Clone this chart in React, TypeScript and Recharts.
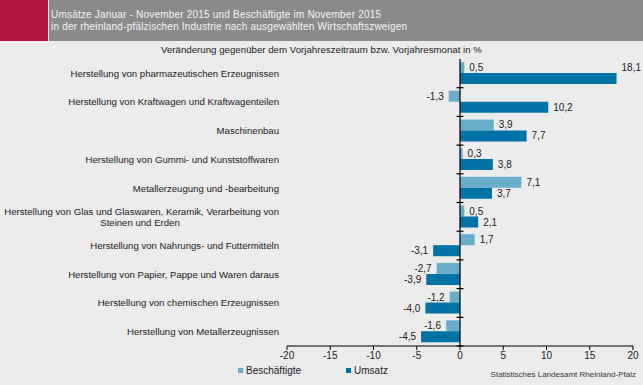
import React from "react";
import {
  BarChart,
  Bar,
  XAxis,
  YAxis,
  ReferenceLine,
  LabelList,
} from "recharts";

// Wirtschaftszweige (top to bottom); "\n" splits a two-line label
const categories = [
  "Herstellung von pharmazeutischen Erzeugnissen",
  "Herstellung von Kraftwagen und Kraftwagenteilen",
  "Maschinenbau",
  "Herstellung von Gummi- und Kunststoffwaren",
  "Metallerzeugung und -bearbeitung",
  "Herstellung von Glas und Glaswaren, Keramik, Verarbeitung von\nSteinen und Erden",
  "Herstellung von Nahrungs- und Futtermitteln",
  "Herstellung von Papier, Pappe und Waren daraus",
  "Herstellung von chemischen Erzeugnissen",
  "Herstellung von Metallerzeugnissen",
];

const beschaeftigte = [0.5, -1.3, 3.9, 0.3, 7.1, 0.5, 1.7, -2.7, -1.2, -1.6];
const umsatz = [18.1, 10.2, 7.7, 3.8, 3.7, 2.1, -3.1, -3.9, -4.0, -4.5];

const xTicks = [-20, -15, -10, -5, 0, 5, 10, 15, 20];

const COLOR_B = "#69adca";
const COLOR_U = "#0072a3";
const FONT = '"Liberation Sans", Arial, sans-serif';

const W = 643;
const H = 385;
const MARGIN = { top: 59, right: 10, bottom: 0, left: 0 };
const PLOT_RIGHT = W - MARGIN.right;

const data = categories.map((name, i) => ({
  name,
  beschaeftigte: beschaeftigte[i],
  umsatz: umsatz[i],
}));

const fmt = (v: number) => v.toFixed(1).replace(".", ",");

const CategoryTick = (props: any) => {
  const { x, y, payload } = props;
  const lines = String(payload.value).split("\n");
  const style = { fontSize: 9.6, fill: "#1a1a1a", fontFamily: FONT };
  if (lines.length === 1) {
    return (
      <text x={x} y={y} dy="0.35em" textAnchor="end" style={style}>
        {lines[0]}
      </text>
    );
  }
  // second line centered under the first one
  return (
    <g>
      <text x={x} y={y - 5.5} dy="0.35em" textAnchor="end" style={style}>
        {lines[0]}
      </text>
      <text x={x - 139} y={y + 5.5} dy="0.35em" textAnchor="middle" style={style}>
        {lines[1]}
      </text>
    </g>
  );
};

const renderValueLabel = (props: any) => {
  const { x, y, width, height, value } = props;
  const v = Number(value);
  const left = Math.min(x, x + width);
  const right = Math.max(x, x + width);
  const cy = y + height / 2;
  const style = { fontSize: 10, fill: "#1a1a1a", fontFamily: FONT };
  if (v >= 0) {
    const lx = right + 5;
    // no room to the right of the plot: lift the label above the bar
    const ly = lx + 18 > PLOT_RIGHT ? cy - 11 : cy;
    return (
      <text x={lx} y={ly} dy="0.35em" textAnchor="start" style={style}>
        {fmt(v)}
      </text>
    );
  }
  return (
    <text x={left - 5} y={cy} dy="0.35em" textAnchor="end" style={style}>
      {fmt(v)}
    </text>
  );
};

// zero line with small marks at the category boundaries
const ZeroAxis = (props: any) => {
  const { x1, y1, x2, y2 } = props;
  const band = (y2 - y1) / categories.length;
  return (
    <g>
      <line x1={x1} y1={y1} x2={x2} y2={y2} stroke="#000" strokeWidth={1.2} />
      {categories.map((_, i) => (
        <line
          key={i}
          x1={x1 - 3.5}
          x2={x1 + 3.5}
          y1={y1 + i * band}
          y2={y1 + i * band}
          stroke="#000"
          strokeWidth={1.2}
        />
      ))}
    </g>
  );
};

export default function App() {
  return (
    <div
      style={{
        position: "absolute",
        left: 0,
        top: 0,
        width: W,
        height: H,
        background: "#ececec",
        fontFamily: FONT,
        overflow: "hidden",
      }}
    >
      {/* header */}
      <div style={{ position: "absolute", left: 0, top: 0, width: 48, height: 41, background: "#b5143f" }} />
      <div style={{ position: "absolute", left: 49, top: 0, width: W - 49, height: 41, background: "#8a8a8a" }} />
      <div
        style={{
          position: "absolute",
          left: 51,
          top: 9,
          color: "#f4f4f4",
          fontSize: 10,
          lineHeight: "11.5px",
          letterSpacing: 0.2,
        }}
      >
        Umsätze Januar - November 2015 und Beschäftigte im November 2015
        <br />
        in der rheinland-pfälzischen Industrie nach ausgewählten Wirtschaftszweigen
      </div>
      <div
        style={{
          position: "absolute",
          left: 0,
          top: 44,
          width: W,
          textAlign: "center",
          fontSize: 9.7,
          color: "#1a1a1a",
        }}
      >
        Veränderung gegenüber dem Vorjahreszeitraum bzw. Vorjahresmonat in %
      </div>

      <div style={{ position: "absolute", left: 0, top: 0 }}>
        <BarChart
          width={W}
          height={H}
          data={data}
          layout="vertical"
          margin={MARGIN}
          barGap={0}
        >
          <XAxis
            type="number"
            domain={[-20, 20]}
            ticks={xTicks}
            height={39}
            tickSize={4}
            tickMargin={2}
            stroke="#000"
            tick={{ fontSize: 10, fill: "#1a1a1a", fontFamily: FONT }}
          />
          <YAxis
            type="category"
            dataKey="name"
            width={287}
            axisLine={false}
            tickLine={false}
            tickSize={0}
            tickMargin={8}
            interval={0}
            tick={<CategoryTick />}
          />
          <Bar
            dataKey="beschaeftigte"
            name="Beschäftigte"
            fill={COLOR_B}
            barSize={11}
            isAnimationActive={false}
          >
            <LabelList dataKey="beschaeftigte" content={renderValueLabel} />
          </Bar>
          <Bar
            dataKey="umsatz"
            name="Umsatz"
            fill={COLOR_U}
            barSize={11}
            isAnimationActive={false}
          >
            <LabelList dataKey="umsatz" content={renderValueLabel} />
          </Bar>
          <ReferenceLine x={0} shape={<ZeroAxis />} />
        </BarChart>
      </div>

      {/* legend */}
      <div
        style={{
          position: "absolute",
          left: 238,
          top: 365,
          display: "flex",
          alignItems: "center",
          fontSize: 10,
          color: "#1a1a1a",
        }}
      >
        <span style={{ width: 5, height: 5, background: COLOR_B, marginRight: 3 }} />
        <span style={{ marginRight: 45 }}>Beschäftigte</span>
        <span style={{ width: 5, height: 5, background: COLOR_U, marginRight: 3 }} />
        <span>Umsatz</span>
      </div>
      <div
        style={{
          position: "absolute",
          right: 7,
          top: 370,
          fontSize: 8,
          color: "#333",
        }}
      >
        Statistisches Landesamt Rheinland-Pfalz
      </div>
    </div>
  );
}
